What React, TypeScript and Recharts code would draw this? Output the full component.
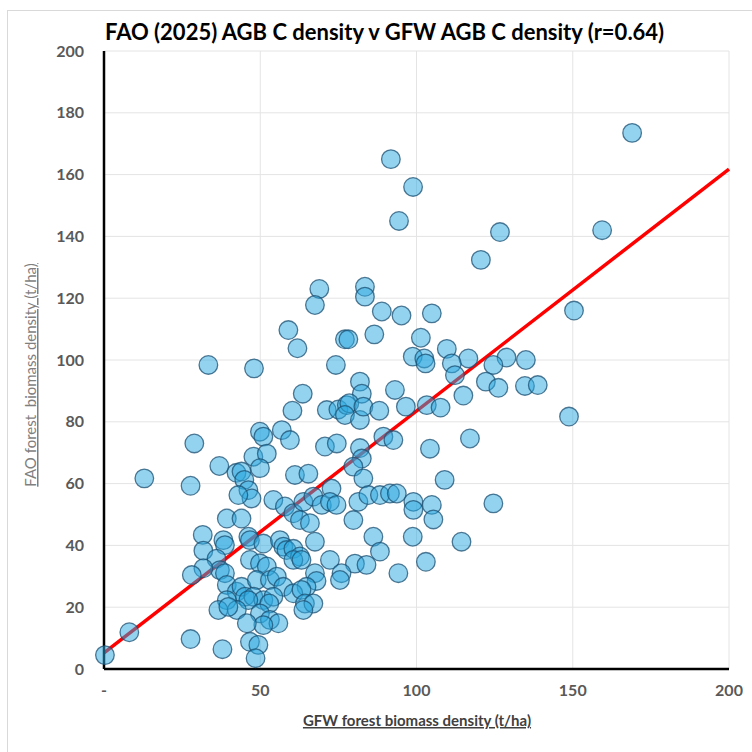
import React from "react";
import { ScatterChart, Scatter, XAxis, YAxis, CartesianGrid, ReferenceLine } from "recharts";

const title = "FAO (2025) AGB C density v GFW AGB C density (r=0.64)";
const xLabel = "GFW forest biomass density (t/ha)";
const yLabel = "FAO forest  biomass density (t/ha)";

const xTicks = [0, 50, 100, 150, 200];
const yTicks = [0, 20, 40, 60, 80, 100, 120, 140, 160, 180, 200];

// GFW forest biomass density (x)
const gfw = [
  169, 91.8, 98.9, 94.4, 159.4, 126.7, 120.6, 83.5, 83.5, 68.9,
  67.5, 150.4, 88.9, 95.2, 104.9, 59, 77.1, 78.2, 86.5, 101.4,
  109.7, 61.9, 98.8, 102.5, 116.6, 128.8, 135, 102.9, 111.3, 124.6,
  74.2, 33.4, 48, 112.3, 122.2, 81.9, 134.7, 138.8, 126.2, 93.1,
  82.5, 63.6, 115, 60.3, 71.3, 75, 77.7, 78.5, 77.1, 81.9,
  83, 88.1, 96.6, 103.3, 107.7, 148.8, 56.9, 49.9, 51, 59.5,
  117.1, 70.7, 74.5, 81.9, 89.4, 92.6, 104.3, 28.9, 47.8, 52.1,
  82.5, 36.9, 42.4, 44, 49.9, 79.8, 12.9, 27.7, 44.9, 61.1,
  65.4, 83, 109, 46.2, 47.2, 43, 72.8, 54.2, 57.9, 60.6,
  63.8, 67, 69.7, 72.3, 74.4, 62.7, 65.9, 79.8, 81.4, 84.6,
  88.3, 91.5, 93.7, 99, 99, 104.9, 105.4, 124.6, 39.3, 44,
  31.6, 38.2, 38.7, 46.2, 46.7, 51, 56.3, 57.4, 58.4, 60.6,
  67.5, 86.2, 98.8, 114.4, 88.3, 31.8, 62.7, 60.6, 63.2, 72.3,
  46.7, 49.9, 52.1, 36, 37.1, 38.7, 31.8, 28.1, 80.3, 84,
  103, 76, 75.5, 67.5, 68, 94.2, 39.3, 42.5, 44, 45.1,
  48.9, 53.1, 55.3, 57.4, 64.8, 60.6, 63.2, 47.8, 51, 54.2,
  39.3, 46.2, 52.9, 64.3, 67, 63.8, 36.6, 42.5, 39.8, 49.9,
  53.1, 55.8, 51, 45.7, 8.1, 27.7, 37.9, 46.7, 49.4, 48.5,
  0.3,
];

// FAO forest biomass density (y)
const fao = [
  173.5, 165, 156, 145, 142, 141.4, 132.4, 123.7, 120.5, 123,
  117.8, 116, 115.7, 114.4, 115.1, 109.7, 106.7, 106.7, 108.3, 107.2,
  103.6, 103.8, 101.1, 100.5, 100.5, 100.8, 100, 98.9, 98.9, 98.4,
  98.4, 98.4, 97.3, 95.1, 93, 93, 91.6, 91.9, 91, 90.3,
  89.1, 89.1, 88.5, 83.6, 83.8, 84, 85.4, 86, 82.2, 80.6,
  84.9, 83.6, 84.9, 85.4, 84.6, 81.7, 77.3, 76.8, 75.2, 74.1,
  74.6, 72, 73, 71.5, 75.2, 74.1, 71.3, 73, 68.7, 69.7,
  68.1, 65.7, 63.5, 63.9, 65, 65.5, 61.7, 59.3, 61.2, 62.8,
  63.2, 61.7, 61.2, 57.9, 55.2, 56.3, 58.4, 54.7, 52.6, 50.4,
  54.1, 55.8, 53.1, 54.1, 53.1, 48.2, 47.2, 48.2, 54.1, 56.3,
  56.3, 56.8, 56.8, 54.1, 51.5, 53.1, 48.4, 53.6, 48.7, 48.7,
  43.4, 41.7, 40.1, 42.8, 41.7, 40.6, 41.7, 39.6, 38.5, 38.9,
  41.2, 42.8, 42.8, 41.2, 38, 38.3, 36.4, 35.3, 35.3, 35.3,
  35.3, 34.2, 33.2, 35.7, 32, 31, 32.6, 30.4, 34.1, 33.7,
  34.7, 31, 28.8, 31, 28.5, 31, 27.2, 25, 26.6, 23.4,
  28.8, 28.8, 29.9, 26.6, 26.6, 24.5, 25.6, 23.4, 22.3, 23.4,
  22.3, 22.3, 21.2, 21.2, 21.2, 19.1, 19.1, 19.1, 20.1, 18,
  15.9, 14.8, 14.2, 14.8, 11.9, 9.7, 6.4, 8.8, 7.8, 3.5,
  4.5,
];

// regression line end points
const fitX = [0, 200];
const fitY = [5.2, 161.8];

const points = gfw.map((x, i) => ({ x, y: fao[i] }));

const FONT = "Lato, 'Open Sans', sans-serif";

const Dot = (props: any) => {
  const { cx, cy } = props;
  if (cx == null || cy == null) return null;
  return (
    <circle
      cx={cx}
      cy={cy}
      r={9.3}
      fill="#2aa7df"
      fillOpacity={0.5}
      stroke="#1b4f72"
      strokeOpacity={0.75}
      strokeWidth={1.3}
    />
  );
};

export default function App() {
  return (
    <div style={{ position: "absolute", left: 0, top: 0, width: 752, height: 752, background: "#fff", overflow: "hidden", fontFamily: FONT }}>
      <div style={{ position: "absolute", left: 7, top: 10, width: 800, height: 800, border: "1px solid #d9d9d9", boxSizing: "border-box" }} />
      <ScatterChart
        width={752}
        height={752}
        margin={{ top: 51, right: 23, bottom: 53, left: 44 }}
        style={{ position: "absolute", left: 0, top: 0 }}
      >
        <CartesianGrid stroke="#e4e4e4" strokeWidth={1} />
        <XAxis
          type="number"
          dataKey="x"
          domain={[0, 200]}
          ticks={xTicks}
          tickFormatter={(v: number) => (v === 0 ? "-" : String(v))}
          axisLine={{ stroke: "#000", strokeWidth: 2.5 }}
          tickLine={false}
          tickMargin={10}
          height={30}
          tick={{ fill: "#595959", fontSize: 16, fontWeight: 700, fontFamily: FONT }}
          interval={0}
        />
        <YAxis
          type="number"
          dataKey="y"
          domain={[0, 200]}
          ticks={yTicks}
          axisLine={{ stroke: "#000", strokeWidth: 2.5 }}
          tickLine={false}
          tickMargin={14}
          width={60}
          tick={{ fill: "#595959", fontSize: 16, fontWeight: 700, fontFamily: FONT }}
          interval={0}
        />
        <Scatter data={points} shape={Dot} isAnimationActive={false} />
        <ReferenceLine
          segment={[
            { x: fitX[0], y: fitY[0] },
            { x: fitX[1], y: fitY[1] },
          ]}
          stroke="#ff0000"
          strokeWidth={3.5}
          ifOverflow="visible"
        />
      </ScatterChart>
      <svg width={752} height={752} style={{ position: "absolute", left: 0, top: 0, pointerEvents: "none" }}>
        <text x={105} y={40} fontFamily={FONT} fontWeight={700} fontSize={22} fill="#000">
          {title}
        </text>
        <text
          x={417}
          y={726}
          textAnchor="middle"
          fontFamily={FONT}
          fontWeight={700}
          fontSize={15}
          fill="#404040"
          style={{ textDecoration: "underline" }}
        >
          {xLabel}
        </text>
        <text
          x={36}
          y={375}
          textAnchor="middle"
          transform="rotate(-90 36 375)"
          fontFamily={FONT}
          fontSize={15}
          fill="#7f7f7f"
          style={{ textDecoration: "underline", whiteSpace: "pre" }}
        >
          {yLabel}
        </text>
      </svg>
    </div>
  );
}
